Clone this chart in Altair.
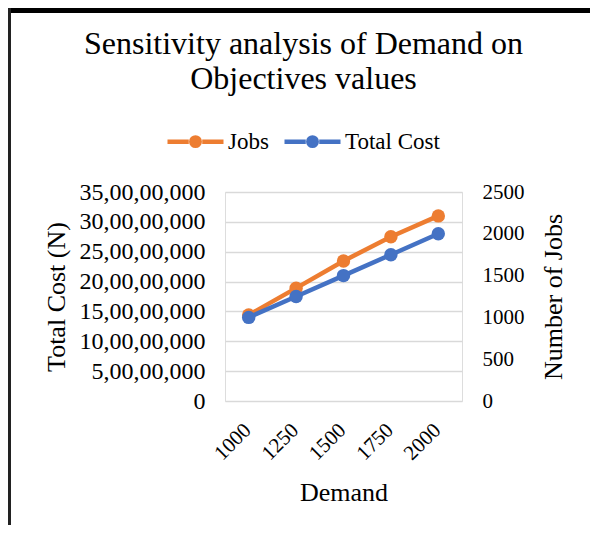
import altair as alt
import pandas as pd

demand = [1000, 1250, 1500, 1750, 2000]
jobs_vals = [144000000, 189000000, 234500000, 275000000, 310000000]   # orange, left axis
total_cost_vals = [1000, 1250, 1500, 1750, 2000]                      # blue, right axis
series_names = ["Jobs", "Total Cost"]
series_colors = ["#ED7D31", "#4472C4"]
left_ticks = [0, 50000000, 100000000, 150000000, 200000000, 250000000, 300000000, 350000000]
right_ticks = [0, 500, 1000, 1500, 2000, 2500]

df_a = pd.DataFrame({"Demand": demand, "v": jobs_vals, "series": series_names[0]})
df_b = pd.DataFrame({"Demand": demand, "v": total_cost_vals, "series": series_names[1]})
df_frame = pd.DataFrame({"k": [0]})

FONT = "Liberation Serif"
sym = ("M-1,0L-0.24,0M0.24,0L1,0"
       "M0.15,0A0.15,0.15 0 1,1 -0.15,0A0.15,0.15 0 1,1 0.15,0"
       "M0.05,0A0.05,0.05 0 1,1 -0.05,0A0.05,0.05 0 1,1 0.05,0")

color = alt.Color(
    "series:N",
    scale=alt.Scale(domain=series_names, range=series_colors),
    legend=alt.Legend(
        title=None, orient="none", direction="horizontal",
        legendX=-60, legendY=-81,
        symbolType=sym, symbolSize=3136, symbolStrokeWidth=4.5,
        labelFont=FONT, labelFontSize=23, labelColor="#000000",
        labelOffset=2, columnPadding=6,
    ),
)

x = alt.X(
    "Demand:O",
    scale=alt.Scale(type="point", padding=0.5),
    axis=alt.Axis(title="Demand", labelAngle=-45, labelFont=FONT, labelFontSize=21,
                  labelColor="#000000", titleFont=FONT, titleFontSize=26,
                  titleFontWeight="normal", titleColor="#000000", ticks=False,
                  domain=False, grid=False, labelPadding=18, labelOffset=-9,
                  titlePadding=16),
)

label_expr = ("datum.value == 0 ? '0' : format(floor(datum.value/1e7),'d') + ',' + "
              "format(floor(datum.value/1e5)%100,'02d') + ',' + "
              "format(floor(datum.value/1e3)%100,'02d') + ',' + format(datum.value%1000,'03d')")

y_left = alt.Y(
    "v:Q",
    scale=alt.Scale(domain=[0, 350000000], nice=False),
    axis=alt.Axis(title="Total Cost (N)", values=left_ticks, labelExpr=label_expr,
                  labelFont=FONT, labelFontSize=24, labelColor="#000000",
                  titleFont=FONT, titleFontSize=26, titleFontWeight="normal",
                  titleColor="#000000", ticks=False, domain=False, grid=True,
                  gridColor="#d9d9d9", gridWidth=1.5, labelPadding=20,
                  titleAngle=270, titleX=-169, titleY=104.5, titleAlign="center",
                  titleBaseline="middle"),
)

y_right = alt.Y(
    "v:Q",
    scale=alt.Scale(domain=[0, 2500], nice=False),
    axis=alt.Axis(title="Number of Jobs", orient="right", values=right_ticks, format="d",
                  labelFont=FONT, labelFontSize=21, labelColor="#000000",
                  titleFont=FONT, titleFontSize=26, titleFontWeight="normal",
                  titleColor="#000000", ticks=False, domain=False, grid=False,
                  labelPadding=20, titleAngle=270, titleX=91, titleY=104.5,
                  titleAlign="center", titleBaseline="middle"),
)

base_a = alt.Chart(df_a).encode(x=x, y=y_left, color=color)
left = alt.layer(
    base_a.mark_line(strokeWidth=4.5),
    base_a.mark_point(filled=True, size=180, opacity=1),
)
base_b = alt.Chart(df_b).encode(x=x, y=y_right, color=color)
right = alt.layer(
    base_b.mark_line(strokeWidth=4.5),
    base_b.mark_point(filled=True, size=180, opacity=1),
)

# chart-area frame (decoration, in pixels relative to the plot area)
frame_top = alt.Chart(df_frame).mark_rule(color="#000000", strokeWidth=5).encode(
    x=alt.value(-217), x2=alt.value(365), y=alt.value(-181.5))
frame_left = alt.Chart(df_frame).mark_rule(color="#222222", strokeWidth=3).encode(
    x=alt.value(-215.5), y=alt.value(-184), y2=alt.value(333))

chart = alt.layer(left, right, frame_top, frame_left).resolve_scale(y="independent").properties(
    width=237, height=209,
    title=alt.TitleParams(
        text=["Sensitivity analysis of Demand on", "Objectives values"],
        font=FONT, fontSize=32, fontWeight="normal", color="#000000",
        anchor="middle", frame="group", dx=-40, offset=-89, lineHeight=35,
    ),
    autosize=alt.AutoSizeParams(type="none"),
    padding={"left": 217, "top": 184, "right": 128, "bottom": 124},
).configure_view(stroke=None).configure(background="white")

chart.save("out.html", embed_options={"renderer": "svg", "actions": False})
